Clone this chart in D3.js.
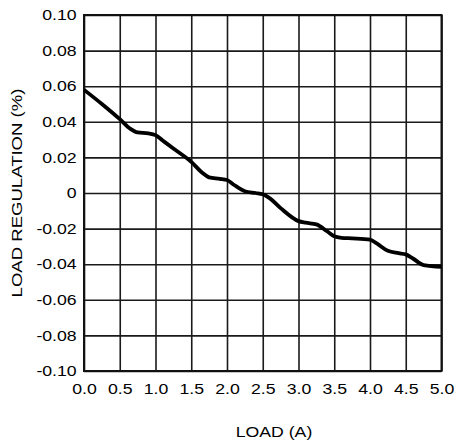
<!DOCTYPE html>
<html>
<head>
<meta charset="utf-8">
<script src="https://cdn.jsdelivr.net/npm/d3@7"></script>
<style>
  body { margin: 0; background: #fff; }
  svg text { font-family: "Liberation Sans", Arial, sans-serif; font-size: 14.5px; fill: #000; }
</style>
</head>
<body>
<div id="viz-container"></div>
<script>
// load current (A)
var loadAmps = [0.0, 0.25, 0.5, 0.65, 0.75, 0.9, 1.0, 1.1, 1.25, 1.5, 1.65, 1.75, 1.9, 2.0,
	2.1, 2.25, 2.4, 2.5, 2.6, 2.75, 3.0, 3.1, 3.25, 3.4, 3.5, 3.6, 3.75, 4.0, 4.1, 4.25,
	4.4, 4.5, 4.6, 4.75, 5.0];
// load regulation (%)
var regulation = [0.058, 0.050, 0.0415, 0.036, 0.034, 0.0335, 0.0325, 0.0295, 0.025, 0.0175,
	0.0115, 0.0088, 0.008, 0.0073, 0.0045, 0.001, 0.0, -0.0007, -0.003, -0.0085, -0.0158,
	-0.0167, -0.0176, -0.0215, -0.0243, -0.0252, -0.0255, -0.0262, -0.0285, -0.0325,
	-0.0338, -0.0345, -0.0368, -0.0405, -0.0415];

var xTicks = [0, 0.5, 1, 1.5, 2, 2.5, 3, 3.5, 4, 4.5, 5];
var yTicks = [-0.10, -0.08, -0.06, -0.04, -0.02, 0, 0.02, 0.04, 0.06, 0.08, 0.10];

var margin = {top: 15, right: 12.5, bottom: 74, left: 84},
	width = 454 - margin.left - margin.right,
	height = 445 - margin.top - margin.bottom,
	stretch = 1.22;

var svg = d3.select('#viz-container')
	.append('svg')
		.attr('width', 454)
		.attr('height', 445)
	.append('g')
		.attr('transform', 'translate(' + margin.left + ',' + margin.top + ')');

var xScale = d3.scaleLinear().domain([0, 5]).range([0, width]);
var yScale = d3.scaleLinear().domain([-0.1, 0.1]).range([height, 0]);

// grid + tick labels
var xAxis = d3.axisBottom(xScale)
	.tickValues(xTicks)
	.tickFormat(d3.format('.1f'))
	.tickSizeInner(-height)
	.tickSizeOuter(0)
	.tickPadding(13);

var yAxis = d3.axisLeft(yScale)
	.tickValues(yTicks)
	.tickFormat(function(d) { return d === 0 ? '0' : d.toFixed(2); })
	.tickSizeInner(-width)
	.tickSizeOuter(0)
	.tickPadding(6);

var gx = svg.append('g')
	.attr('transform', 'translate(0,' + height + ')')
	.call(xAxis);
var gy = svg.append('g').call(yAxis);

[gx, gy].forEach(function(g) {
	g.select('.domain').remove();
	g.selectAll('line').attr('stroke', '#1a1a1a').attr('stroke-width', 1.6);
	g.selectAll('text')
		.attr('fill', '#000')
		.style('font-size', '14.5px')
		.attr('font-family', null)
		// stretch labels horizontally like the original typeface
		.attr('transform', 'scale(' + stretch + ',1)');
});

// frame
svg.append('rect')
	.attr('width', width)
	.attr('height', height)
	.attr('fill', 'none')
	.attr('stroke', '#111')
	.attr('stroke-width', 2);

// curve
var line = d3.line()
	.x(function(d, i) { return xScale(loadAmps[i]); })
	.y(function(d) { return yScale(d); })
	.curve(d3.curveMonotoneX);

svg.append('path')
	.datum(regulation)
	.attr('d', line)
	.attr('fill', 'none')
	.attr('stroke', '#000')
	.attr('stroke-width', 3.8)
	.attr('stroke-linejoin', 'round');

// axis titles
svg.append('text')
	.attr('transform', 'translate(' + (274 - margin.left) + ',' + (437 - margin.top) + ') scale(' + stretch + ',1)')
	.attr('text-anchor', 'middle')
	.text('LOAD (A)');

svg.append('text')
	.attr('transform', 'translate(' + (21.5 - margin.left) + ',' + (193 - margin.top) + ') rotate(-90) scale(1.28,1)')
	.attr('text-anchor', 'middle')
	.text('LOAD REGULATION (%)');
</script>
</body>
</html>
